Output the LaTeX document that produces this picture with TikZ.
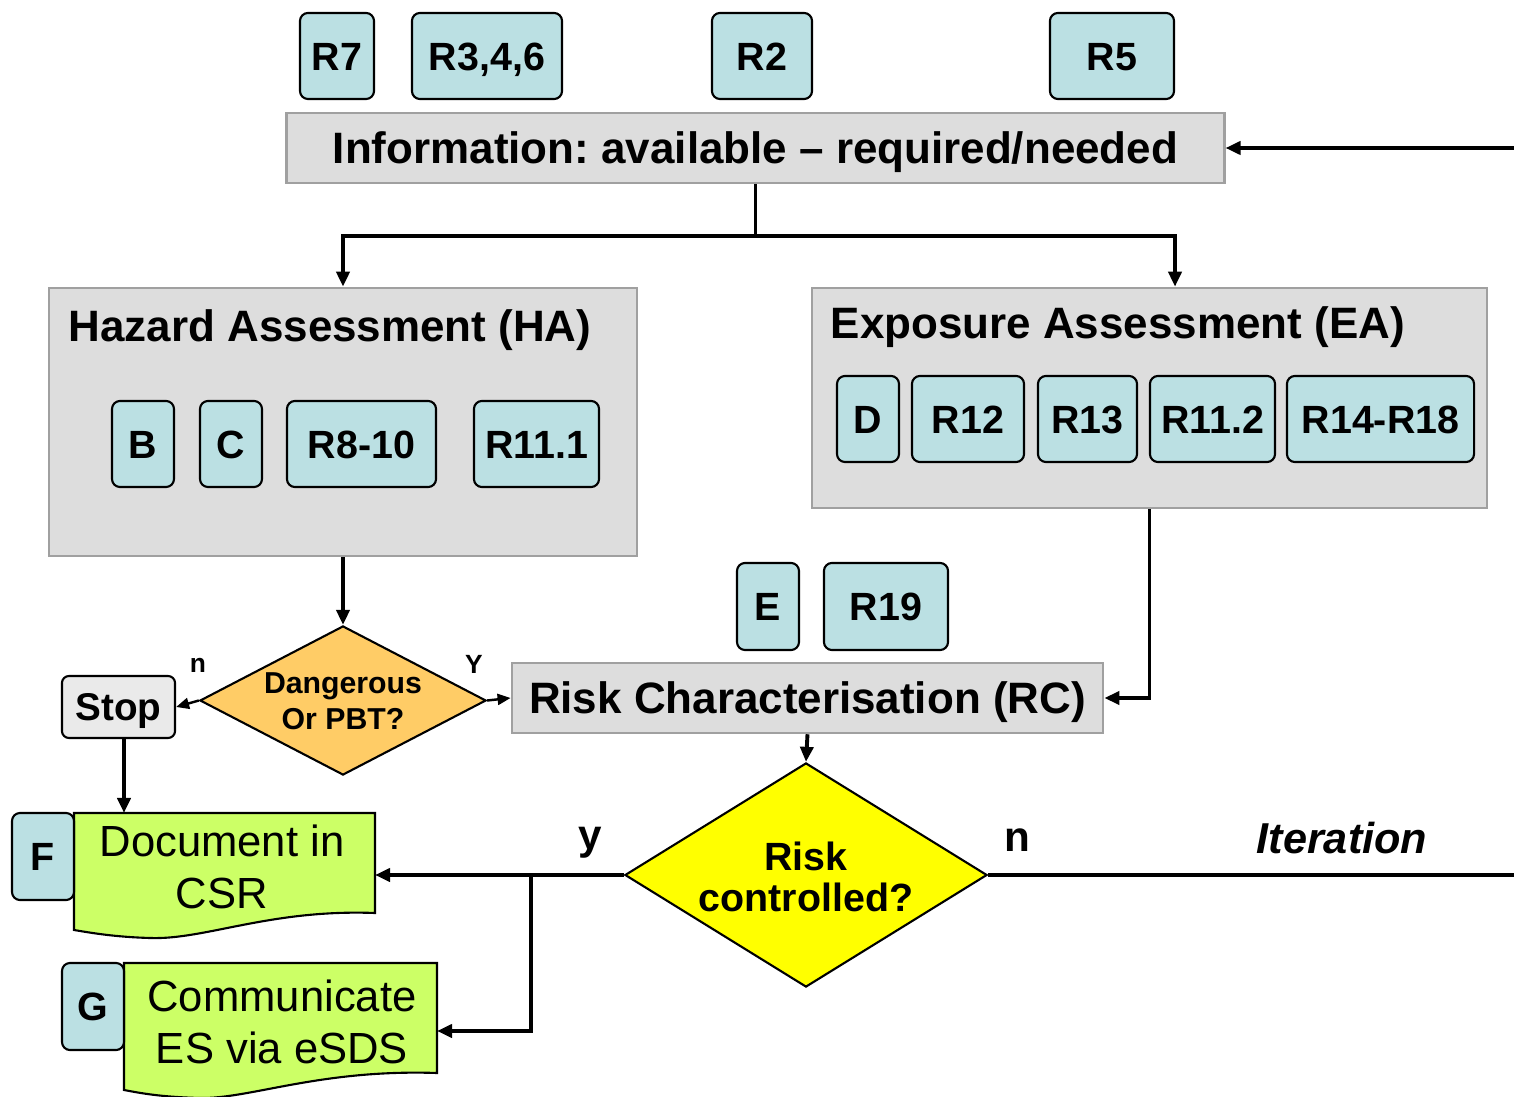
\documentclass[tikz,border=0pt]{standalone}
\usepackage{fontspec}
\setmainfont{Liberation Sans}
\usetikzlibrary{arrows.meta,shapes.geometric,calc}
\definecolor{rbox}{RGB}{187,224,227}
\definecolor{gfill}{RGB}{221,221,221}
\definecolor{gborder}{RGB}{160,160,160}
\definecolor{stopfill}{RGB}{234,234,234}
\definecolor{orangefill}{RGB}{255,204,102}
\definecolor{yellowfill}{RGB}{255,255,0}
\definecolor{greenfill}{RGB}{204,255,102}
\begin{document}
\frenchspacing
\begin{tikzpicture}[x=0.01cm,y=-0.01cm,
  rb/.style={draw=black,line width=0.6pt,fill=rbox,rounded corners=0.08cm,inner sep=0,minimum height=0.86cm,font=\fontsize{11.2}{13}\selectfont\bfseries,text height=8.0pt,text depth=0pt},
  gbox/.style={draw=gborder,line width=0.7pt,fill=gfill,inner sep=0},
  ttl/.style={font=\fontsize{12.5}{15}\selectfont\bfseries,inner sep=0,text height=8.95pt,text depth=0pt},
  conn/.style={line width=1.1pt,-{Triangle[length=0.15cm,width=0.13cm]}},
  thinconn/.style={line width=0.7pt,-{Triangle[length=0.13cm,width=0.11cm]}},
  plain/.style={line width=1.1pt},
  docshape/.style={draw=black,line width=0.6pt,fill=greenfill},
  doctext/.style={font=\fontsize{12.4}{14.8}\selectfont,align=center,inner sep=0},
  dia/.style={diamond,draw=black,line width=0.6pt,inner sep=0},
  lbl/.style={font=\fontsize{12}{14}\selectfont\bfseries,inner sep=0},
  smalllbl/.style={font=\fontsize{7.5}{9}\selectfont\bfseries,inner sep=0}
]
\useasboundingbox (0,0) rectangle (1514,1097);

% top R boxes
\node[rb,minimum width=0.74cm] (r7) at (337,56) {R7};
\node[rb,minimum width=1.50cm] (r346) at (487,56) {R3,4,6};
\node[rb,minimum width=1.00cm] (r2) at (762,56) {R2};
\node[rb,minimum width=1.24cm] (r5) at (1112,56) {R5};

% information box
\node[gbox,ttl,minimum width=9.37cm,minimum height=0.70cm] (info) at (755.5,148) {Information: available -- required/needed};

% hazard assessment
\node[gbox,minimum width=5.88cm,minimum height=2.68cm] (ha) at (343,422) {};
\node[ttl,anchor=west] (hat) at (68,326) {Hazard Assessment (HA)};
\node[rb,minimum width=0.62cm] (b) at (143,444) {B};
\node[rb,minimum width=0.62cm] (c) at (231,444) {C};
\node[rb,minimum width=1.49cm] (r810) at (361.5,444) {R8-10};
\node[rb,minimum width=1.25cm] (r111) at (536.5,444) {R11.1};

% exposure assessment
\node[gbox,minimum width=6.75cm,minimum height=2.20cm] (ea) at (1149.5,398) {};
\node[ttl,anchor=west] (eat) at (830,323) {Exposure Assessment (EA)};
\node[rb,minimum width=0.62cm] (d) at (868,419) {D};
\node[rb,minimum width=1.12cm] (r12) at (968,419) {R12};
\node[rb,minimum width=0.99cm] (r13) at (1087.5,419) {R13};
\node[rb,minimum width=1.25cm] (r112) at (1212.5,419) {R11.2};
\node[rb,minimum width=1.87cm] (r1418) at (1380.5,419) {R14-R18};

% dangerous diamond
\node[dia,fill=orangefill,minimum width=2.86cm,minimum height=1.49cm] (d1) at (343,700.5) {};
\node[font=\fontsize{8.6}{10.2}\selectfont\bfseries,align=center,inner sep=0] (d1t) at (343,701) {Dangerous\\Or PBT?};

% stop
\node[draw=black,line width=0.6pt,fill=stopfill,rounded corners=0.07cm,inner sep=0,minimum width=1.13cm,minimum height=0.62cm,font=\fontsize{11}{13}\selectfont\bfseries,text height=7.9pt,text depth=0pt] (stop) at (118.5,707) {Stop};

% E, R19
\node[rb,minimum width=0.62cm,minimum height=0.87cm] (e) at (768,606.5) {E};
\node[rb,minimum width=1.24cm,minimum height=0.87cm] (r19) at (886,606.5) {R19};

% risk characterisation
\node[gbox,ttl,minimum width=5.91cm,minimum height=0.70cm] (rc) at (807.5,698) {Risk Characterisation (RC)};

% risk diamond
\node[dia,fill=yellowfill,minimum width=3.62cm,minimum height=2.24cm] (d2) at (806,875) {};
\node[font=\fontsize{11.2}{11.7}\selectfont\bfseries,align=center,inner sep=0] (d2t) at (806,877) {Risk\\controlled?};

% documents
\draw[docshape] (74,813) -- (375,813) -- (375,913)
  .. controls (270,909) and (205,940) .. (150,938)
  .. controls (115,937) and (92,933) .. (74,930) -- cycle;
\node[doctext] (docf) at (222,867) {Document in\\CSR};
\node[rb,minimum width=0.62cm,minimum height=0.87cm] (f) at (43,856.5) {F};

\draw[docshape] (124,963) -- (437,963) -- (437,1073)
  .. controls (320,1069) and (250,1099) .. (200,1098)
  .. controls (160,1097) and (140,1093) .. (124,1090) -- cycle;
\node[doctext] (docg) at (282,1022) {Communicate\\ES via eSDS};
\node[rb,minimum width=0.62cm,minimum height=0.87cm] (g) at (93,1006.5) {G};

% coordinates
\coordinate (loopin) at (1514,148);
\coordinate (loopout) at (1514,875);
\coordinate (finl) at (375,875);
\coordinate (gin) at (437,1031);
\coordinate (br) at (531,875);
\coordinate (ftop) at (124,813);

% connectors
\draw[conn] (loopin) -- (info.east);
\draw[conn] (info.south) -- ++(0,52) -| (ha.north);
\draw[conn] (info.south) -- ++(0,52) -| ([xshift=0.255cm]ea.north);
\draw[conn] (ha.south) -- (d1.north);
\draw[thinconn] (d1.west) -- (stop.east);
\draw[thinconn] (d1.east) -- (rc.west);
\draw[conn] (ea.south) |- (rc.east);
\draw[conn] (rc.south) -- (d2.north);
\draw[plain] (d2.east) -- (loopout);
\draw[conn] (d2.west) -- (finl);
\draw[conn] (br) |- (gin);
\draw[conn] (stop.south -| ftop) -- (ftop);

% labels
\node[smalllbl] (ln) at (198,665) {n};
\node[smalllbl] (ly) at (474,664) {Y};
\node[lbl] (lyy) at (590,843) {y};
\node[lbl] (lnn) at (1017,840) {n};
\node[font=\fontsize{12.3}{14}\selectfont\bfseries\itshape,inner sep=0] (iter) at (1342,838) {Iteration};
\end{tikzpicture}
\end{document}
